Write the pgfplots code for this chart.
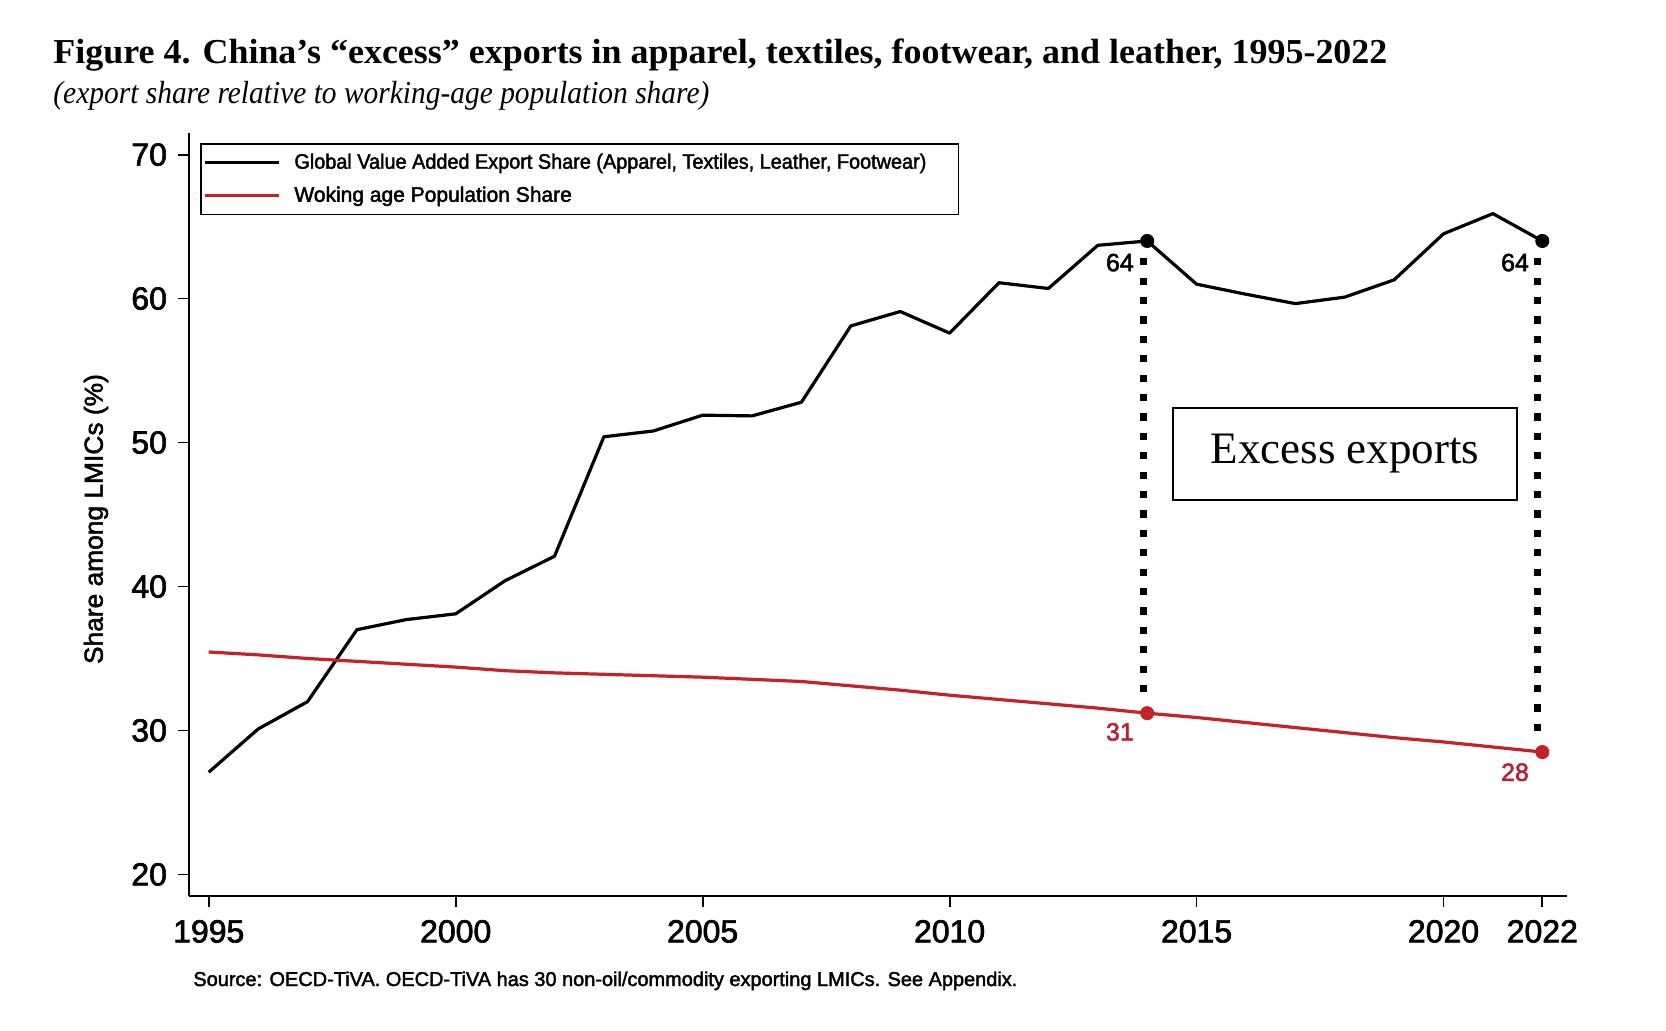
\documentclass[border=0pt]{standalone}
\usepackage{pgfplots}
\pgfplotsset{compat=1.18}
\usepackage{fontspec}
\usepackage{graphicx}
\setmainfont{Liberation Serif}
\newfontfamily\sans[FakeBold=2]{Liberation Sans}
\definecolor{redline}{RGB}{198,32,40}
\definecolor{redlab}{RGB}{185,30,55}
\newlength\fitlen
\newcommand\fitw[2]{\settowidth\fitlen{#2}\pgfmathsetmacro\fitsx{#1/\fitlen}\scalebox{\fitsx}[1]{#2}}

\pgfplotstableread{
year exp pop
1995 27.1 35.45
1996 30.1 35.25
1997 32.0 35.0
1998 37.0 34.8
1999 37.7 34.6
2000 38.1 34.4
2001 40.4 34.15
2002 42.1 34.0
2003 50.4 33.9
2004 50.8 33.8
2005 51.9 33.7
2006 51.85 33.55
2007 52.8 33.4
2008 58.1 33.1
2009 59.1 32.8
2010 57.6 32.45
2011 61.1 32.15
2012 60.7 31.85
2013 63.7 31.55
2014 64.0 31.2
2015 61.0 30.9
2016 60.3 30.55
2017 59.65 30.2
2018 60.1 29.85
2019 61.3 29.5
2020 64.5 29.2
2021 65.9 28.85
2022 64.0 28.5
}\datatab

\begin{document}
\begin{tikzpicture}
\path[use as bounding box, fill=white] (0,0) rectangle (833pt,515pt);
\begin{axis}[
  at={(94.5pt,67pt)}, anchor=south west,
  scale only axis, width=689pt, height=381.5pt,
  xmin=1994.6, xmax=2022.5, ymin=18.5, ymax=71.5,
  axis x line*=bottom, axis y line*=left,
  axis line style={line width=0.9pt, -},
  xtick={1995,2000,2005,2010,2015,2020,2022},
  xticklabels={1995,2000,2005,2010,2015,2020,2022},
  ytick={20,30,40,50,60,70},
  yticklabels={20,30,40,50,60,70},
  tick align=outside, major tick length=5.5pt,
  tick style={line width=0.9pt, black},
  xticklabel style={font=\sans\fontsize{16}{16}\selectfont, yshift=-3pt},
  yticklabel style={font=\sans\fontsize{16}{16}\selectfont, xshift=-2pt},
  ylabel={\fitw{145pt}{\sans\fontsize{13}{13}\selectfont Share among LMICs (\%)}},
  every axis y label/.style={at={(axis description cs:-0.0675,0.494)}, rotate=90, anchor=center, inner sep=0pt},
  clip=false,
  legend cell align=left,
  legend image code/.code={\draw[#1, line width=1.8pt] (-2pt,0pt) -- (35pt,0pt);},
  legend style={at={(axis description cs:0.008,0.987)}, anchor=north west,
    draw=black, line width=0.8pt, inner xsep=1pt, inner ysep=1.2pt,
    font=\sans\fontsize{10.5}{12}\selectfont, row sep=0pt,
    nodes={inner ysep=3.7pt},
    /tikz/every odd column/.append style={column sep=5pt}},
]
\addplot[black, line width=1.6pt, line join=round] table[x=year, y=exp] {\datatab};
\addlegendentry{\fitw{316pt}{\sans\fontsize{10.5}{12}\selectfont Global Value Added Export Share (Apparel, Textiles, Leather, Footwear)}\hspace*{13pt}}
\addplot[redline, line width=1.6pt, line join=round] table[x=year, y=pop] {\datatab};
\addlegendentry{Woking age Population Share}
\addplot[forget plot, black, line width=3.6pt, dash pattern=on 3.6pt off 6.1pt] coordinates {(2013.93,62.8) (2013.93,31.9)};
\addplot[forget plot, black, line width=3.6pt, dash pattern=on 3.6pt off 6.1pt] coordinates {(2021.9,62.8) (2021.9,29.3)};
\addplot[forget plot, only marks, mark=*, mark size=3.3pt, black] coordinates {(2014,64) (2022,64)};
\addplot[forget plot, only marks, mark=*, mark size=3.3pt, redline] coordinates {(2014,31.2) (2022,28.5)};
\node[anchor=east, xshift=-6.5pt, inner sep=0pt, font=\sans\fontsize{12.5}{12.5}\selectfont] at (axis cs:2014,62.5) {64};
\node[anchor=east, xshift=-6.5pt, inner sep=0pt, font=\sans\fontsize{12.5}{12.5}\selectfont] at (axis cs:2022,62.5) {64};
\node[anchor=east, xshift=-6.5pt, inner sep=0pt, text=redlab, font=\sans\fontsize{12.5}{12.5}\selectfont] at (axis cs:2014,29.9) {31};
\node[anchor=east, xshift=-6.5pt, inner sep=0pt, text=redlab, font=\sans\fontsize{12.5}{12.5}\selectfont] at (axis cs:2022,27.1) {28};
\end{axis}
\node[draw=black, line width=0.9pt, minimum width=172pt, minimum height=46pt, inner sep=0pt, font=\fontsize{22.5}{22.5}\selectfont] at (672.5pt,288pt) {Excess exports};
\node[anchor=base west, inner sep=0pt] at (26.5pt,483pt) {\fitw{667pt}{\fontsize{17.5}{17.5}\selectfont\bfseries Figure 4. China’s “excess” exports in apparel, textiles, footwear, and leather, 1995-2022}};
\node[anchor=base west, inner sep=0pt] at (26.5pt,463pt) {\fitw{328pt}{\fontsize{16}{16}\selectfont\itshape (export share relative to working-age population share)}};
\node[anchor=base west, inner sep=0pt] at (96.5pt,22pt) {\fitw{412pt}{\sans\fontsize{10}{10}\selectfont Source: OECD-TiVA. OECD-TiVA has 30 non-oil/commodity exporting LMICs. See Appendix.}};
\end{tikzpicture}
\end{document}
